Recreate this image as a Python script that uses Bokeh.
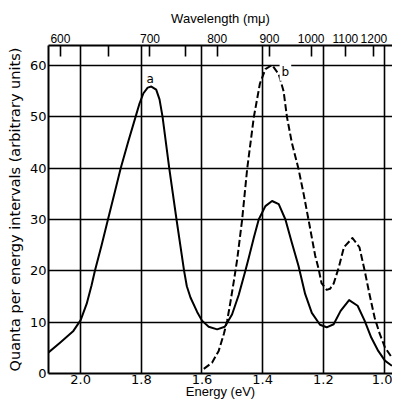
from bokeh.plotting import figure
from bokeh.models import Range1d, LinearAxis, FixedTicker, Label, CustomJSTickFormatter
from bokeh.embed import file_html
from bokeh.resources import INLINE

# Curve a (solid): energy (eV) vs quanta per energy interval (arbitrary units)
energy_a = [2.106, 2.068, 2.024, 2.000, 1.980, 1.964, 1.953, 1.931, 1.910, 1.888, 1.868,
            1.844, 1.819, 1.806, 1.793, 1.779, 1.767, 1.751, 1.740, 1.730, 1.708, 1.684,
            1.659, 1.650, 1.638, 1.616, 1.600, 1.578, 1.550, 1.525, 1.501, 1.479, 1.457,
            1.446, 1.429, 1.413, 1.391, 1.369, 1.347, 1.325, 1.304, 1.282, 1.260, 1.238,
            1.211, 1.189, 1.166, 1.143, 1.115, 1.087, 1.064, 1.042, 1.019, 0.997, 0.974]
quanta_a = [4.1, 6.0, 8.3, 10.4, 13.6, 17.2, 20.0, 25.0, 30.0, 35.2, 40.0,
            45.0, 50.0, 52.6, 54.6, 55.7, 55.9, 55.3, 53.4, 50.0, 40.0, 30.0,
            20.0, 17.0, 14.8, 12.0, 10.3, 9.1, 8.6, 9.1, 11.5, 15.3, 20.0,
            22.5, 26.5, 30.0, 32.6, 33.6, 33.0, 30.0, 25.5, 21.0, 15.5, 11.8,
            9.5, 9.0, 9.6, 12.2, 14.3, 13.2, 10.3, 7.0, 4.4, 2.5, 1.5]

# Curve b (dashed)
energy_b = [1.594, 1.567, 1.545, 1.528, 1.517, 1.506, 1.495, 1.484, 1.468, 1.451, 1.429,
            1.409, 1.391, 1.369, 1.347, 1.331, 1.320, 1.304, 1.282, 1.265, 1.249, 1.227,
            1.216, 1.206, 1.189, 1.178, 1.166, 1.149, 1.132, 1.104, 1.081, 1.064, 1.048,
            1.031, 1.014, 0.997, 0.974]
quanta_b = [0.9, 2.1, 4.4, 7.7, 10.3, 14.0, 18.0, 22.2, 29.8, 39.9, 50.0,
            56.5, 59.3, 60.1, 58.3, 55.0, 50.0, 45.0, 39.9, 35.0, 30.0, 23.0,
            20.5, 17.6, 16.3, 16.5, 17.5, 20.7, 24.6, 26.4, 24.6, 20.1, 15.5,
            10.9, 7.7, 5.1, 3.1]

energy_ticks = [2.0, 1.8, 1.6, 1.4, 1.2, 1.0]
quanta_ticks = [0, 10, 20, 30, 40, 50, 60]
wavelength_ticks = [600, 650, 700, 750, 800, 900, 1000, 1100, 1200]
wavelength_labels = [600, 700, 800, 900, 1000, 1100, 1200]
HC = 1240.0  # eV * nm

FONT = "DejaVu Sans"
FONT2 = "Liberation Sans"

p = figure(width=392, height=401, x_range=Range1d(2.106, 0.972), y_range=Range1d(0, 63.9),
           output_backend="svg", toolbar_location=None, tools="",
           min_border_left=48, min_border_right=0, min_border_top=45, min_border_bottom=28,
           background_fill_color="white", border_fill_color="white")

p.outline_line_color = None

# grids
p.xgrid.ticker = FixedTicker(ticks=energy_ticks)
p.ygrid.ticker = FixedTicker(ticks=quanta_ticks)
for g in (p.xgrid, p.ygrid):
    g.grid_line_color = "black"
    g.grid_line_width = 1.6
    g.grid_line_alpha = 1.0

# bottom axis
xa = p.xaxis[0]
xa.ticker = FixedTicker(ticks=energy_ticks, minor_ticks=[])
xa.formatter = CustomJSTickFormatter(code="return tick.toFixed(1);")
xa.axis_label = "Energy (eV)"
xa.major_tick_out = 0
xa.major_tick_in = 0
xa.major_label_standoff = 1
xa.axis_label_standoff = -3

# left axis
ya = p.yaxis[0]
ya.ticker = FixedTicker(ticks=quanta_ticks, minor_ticks=[])
ya.axis_label = "Quanta per energy intervals (arbitrary units)"
ya.major_tick_out = 0
ya.major_tick_in = 0
ya.major_label_standoff = 2
ya.axis_label_standoff = 4

# top axis: wavelength in m\u03bc
top = LinearAxis(
    ticker=FixedTicker(ticks=[HC / w for w in wavelength_ticks], minor_ticks=[]),
    formatter=CustomJSTickFormatter(args=dict(labels=wavelength_labels, hc=HC), code="""
        const w = Math.round(hc / tick);
        return labels.includes(w) ? String(w) : "";
    """),
    axis_label="Wavelength (m\u03bc)",
)
top.major_tick_in = 11
top.major_tick_out = 0
top.major_tick_line_width = 1.6
top.major_tick_line_color = "black"
top.major_label_standoff = 3
top.axis_label_standoff = 5
p.add_layout(top, "above")

for ax in (xa, ya, top):
    ax.axis_line_color = "black"
    ax.axis_line_width = 2
    ax.major_label_text_font = FONT
    ax.major_label_text_font_size = "13px"
    ax.major_label_text_color = "black"
    ax.axis_label_text_font = FONT2
    ax.axis_label_text_font_size = "13px"
    ax.axis_label_text_font_style = "normal"
    ax.axis_label_text_color = "black"

top.major_label_text_font = FONT2
top.major_label_text_font_size = "12px"
ya.axis_label_text_font = FONT
ya.axis_label_text_font_size = "14.5px"

p.line(energy_a, quanta_a, line_color="black", line_width=2, line_join="round")
p.line(energy_b, quanta_b, line_color="black", line_width=2, line_dash="7 3", line_join="round")

p.add_layout(Label(x=1.771, y=57.3, text="a", text_align="center", text_baseline="middle",
                   text_font=FONT, text_font_size="12px", text_color="black"))
p.add_layout(Label(x=1.325, y=58.8, text="b", text_align="center", text_baseline="middle",
                   text_font=FONT, text_font_size="12px", text_color="black",
                   background_fill_color="white", padding=2))

open("out.html", "w").write(file_html(p, INLINE))
